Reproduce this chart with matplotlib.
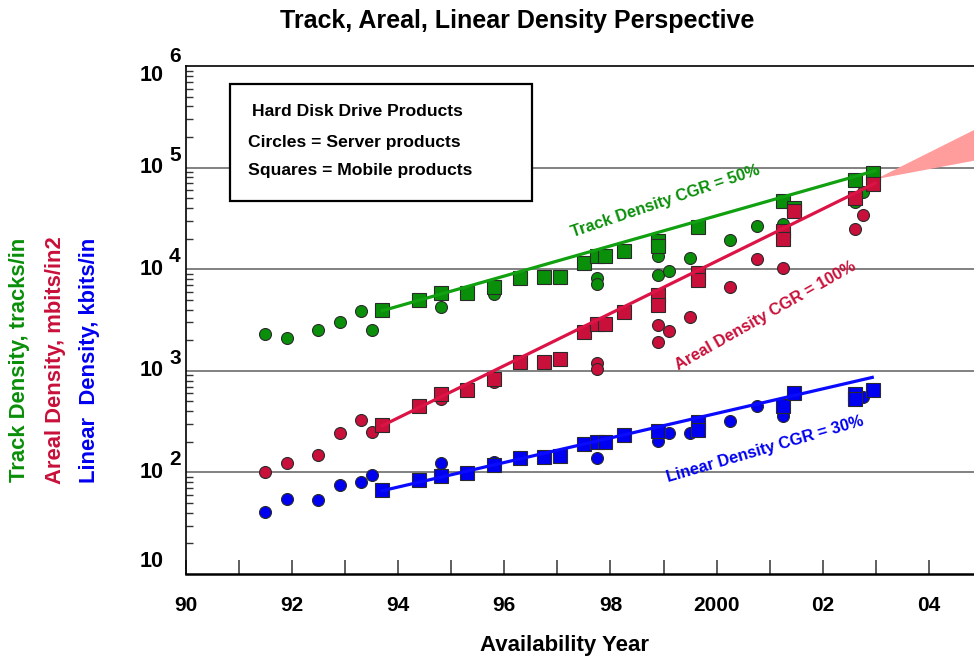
import matplotlib
matplotlib.use("Agg")
import matplotlib.pyplot as plt
from matplotlib.patches import Rectangle, Polygon
from matplotlib.ticker import FixedLocator, LogLocator, NullFormatter

plt.rcParams['font.family'] = ['Liberation Sans', 'DejaVu Sans']

# ---------------- data ----------------
track_server_years = [91.5, 91.9, 92.5, 92.9, 93.3, 93.5, 94.8, 95.8, 97.75, 97.75, 98.9, 98.9,
                      99.1, 99.5, 100.25, 100.75, 101.25, 102.6, 102.75]
track_server_vals = [2290, 2120, 2530, 3010, 3870, 2530, 4210, 5650, 8280, 7160, 13600, 8860,
                     9590, 13000, 19200, 26500, 28000, 46000, 58000]
track_mobile_years = [93.7, 94.4, 94.8, 95.3, 95.8, 96.3, 96.75, 97.05, 97.5, 97.75, 97.9, 98.25,
                      98.9, 98.9, 99.65, 101.25, 101.45, 102.6, 102.95]
track_mobile_vals = [3930, 4950, 5840, 5870, 6740, 8150, 8410, 8410, 11600, 13400, 13400, 15000,
                     18800, 16800, 25900, 46800, 40200, 75000, 89100]

areal_server_years = [91.5, 91.9, 92.5, 92.9, 93.3, 93.5, 94.8, 95.8, 97.75, 97.75, 98.9, 99.1,
                      98.9, 99.5, 100.25, 100.75, 101.25, 102.6, 102.75]
areal_server_vals = [101, 124, 149, 243, 327, 251, 528, 773, 1190, 1050, 2850, 2450,
                     1920, 3380, 6640, 12600, 10200, 24900, 34000]
areal_mobile_years = [93.7, 94.4, 94.8, 95.3, 95.8, 96.3, 96.75, 97.05, 97.5, 97.75, 97.9, 98.25,
                      98.9, 98.9, 99.65, 99.65, 101.25, 101.25, 101.45, 102.6, 102.95]
areal_mobile_vals = [294, 454, 592, 648, 833, 1220, 1220, 1315, 2420, 2880, 2880, 3810,
                     5620, 4470, 9120, 7850, 23600, 20000, 37200, 50500, 68500]

linear_server_years = [91.5, 91.9, 92.5, 92.9, 93.3, 93.5, 94.8, 95.8, 97.75, 98.9, 99.1, 99.5,
                       100.25, 100.75, 101.25, 101.25, 102.6, 102.75]
linear_server_vals = [41.1, 54.6, 54.1, 75.0, 79.6, 93.3, 124, 127, 138, 205, 247, 247,
                      323, 447, 396, 363, 550, 558]
linear_mobile_years = [93.7, 94.4, 94.8, 95.3, 95.8, 96.3, 96.75, 97.05, 97.5, 97.75, 97.9, 98.25,
                       98.9, 99.65, 99.65, 101.25, 101.45, 102.6, 102.6, 102.95]
linear_mobile_vals = [66.4, 84.1, 92.1, 97.7, 117, 140, 141, 145, 189, 200, 200, 232,
                      257, 311, 264, 455, 605, 591, 528, 648]

track_trend_years = [93.7, 102.98]
track_trend_vals = [3900, 93000]
areal_trend_years = [93.7, 102.98]
areal_trend_vals = [288, 70000]
linear_trend_years = [93.7, 102.93]
linear_trend_vals = [66, 861]

wedge_years = [103.0, 105.0, 105.0]
wedge_vals = [77000, 257000, 121000]

xtick_years = [90, 92, 94, 96, 98, 100, 102, 104]
xtick_labels = ['90', '92', '94', '96', '98', '2000', '02', '04']
xminor_years = [91, 93, 95, 97, 99, 101, 103]
ytick_vals = [10, 1e2, 1e3, 1e4, 1e5, 1e6]
ytick_base = ['10', '10', '10', '10', '10', '10']
ytick_exp = ['', '2', '3', '4', '5', '6']

# ---------------- style ----------------
GREEN = '#0a8f0a'
RED = '#c8103a'
BLUE = '#0000f0'
GREEN_L = '#10a010'
RED_L = '#dc1446'
BLUE_L = '#0a0aff'

W, H = 974, 661
fig = plt.figure(figsize=(W / 100, H / 100), dpi=100)
ax = fig.add_axes([185.7 / W, 1 - 574 / H, 1 - 185.7 / W, (574 - 66) / H])
ax.set_yscale('log')
ax.set_xlim(90, 90 + (974 - 185.7) / 53.1)
ax.set_ylim(10, 1e6)

# gridlines at decades
for v in ytick_vals[1:-1]:
    ax.axhline(v, color='#777777', lw=1.3, zorder=1)

# pink wedge
ax.add_patch(Polygon(list(zip(wedge_years, wedge_vals)), closed=True,
                     facecolor='#ff9c9c', edgecolor='none', zorder=2))

ms_c = 8.6
ms_s = 9.4
edge = '#2a2a2a'
kw = dict(linestyle='none', markeredgecolor=edge, markeredgewidth=0.8)
# circles (server)
ax.plot(track_server_years, track_server_vals, 'o', color=GREEN, ms=ms_c, zorder=3, **kw)
ax.plot(areal_server_years, areal_server_vals, 'o', color=RED, ms=ms_c, zorder=3, **kw)
ax.plot(linear_server_years, linear_server_vals, 'o', color=BLUE, ms=ms_c, zorder=3, **kw)
# squares (mobile)
ax.plot(track_mobile_years, track_mobile_vals, 's', color=GREEN, ms=ms_s, zorder=4, **kw)
ax.plot(areal_mobile_years, areal_mobile_vals, 's', color=RED, ms=ms_s, zorder=4, **kw)
ax.plot(linear_mobile_years, linear_mobile_vals, 's', color=BLUE, ms=ms_s, zorder=4, **kw)

# trend lines
ax.plot(track_trend_years, track_trend_vals, color=GREEN_L, lw=2.3, zorder=5)
ax.plot(areal_trend_years, areal_trend_vals, color=RED_L, lw=2.3, zorder=5)
ax.plot(linear_trend_years, linear_trend_vals, color=BLUE_L, lw=2.3, zorder=5)

# trend annotations (placed in figure pixels)
def ftext(px, py, s, **k):
    fig.text(px / W, 1 - py / H, s, **k)

ftext(665, 201, 'Track Density CGR = 50%', color=GREEN, fontsize=11.8, fontweight='bold',
      rotation=18.6, ha='center', va='center', rotation_mode='anchor')
ftext(766, 316, 'Areal Density CGR = 100%', color=RED, fontsize=11.8, fontweight='bold',
      rotation=29.6, ha='center', va='center', rotation_mode='anchor')
ftext(765, 449, 'Linear Density CGR = 30%', color=BLUE, fontsize=11.8, fontweight='bold',
      rotation=16.2, ha='center', va='center', rotation_mode='anchor')

# axes styling
for s in ['left', 'top']:
    ax.spines[s].set_color('black')
    ax.spines[s].set_linewidth(1.2)
ax.spines['bottom'].set_color('black')
ax.spines['bottom'].set_linewidth(1.8)
ax.spines['right'].set_visible(False)

ax.xaxis.set_major_locator(FixedLocator(xtick_years))
ax.xaxis.set_minor_locator(FixedLocator(xminor_years))
ax.set_xticklabels(xtick_labels)
ax.tick_params(axis='x', which='both', direction='in', length=10, width=1.1, color='#333333',
               labelsize=15, pad=16)
for lbl in ax.get_xticklabels():
    lbl.set_fontweight('bold')

ax.yaxis.set_major_locator(FixedLocator(ytick_vals))
ax.yaxis.set_minor_locator(LogLocator(base=10, subs=range(2, 10), numticks=20))
ax.yaxis.set_major_formatter(NullFormatter())
ax.yaxis.set_minor_formatter(NullFormatter())
ax.tick_params(axis='y', which='major', length=0)
ax.tick_params(axis='y', which='minor', direction='in', length=5, width=1.0, color='#333333')

# y tick labels: "10" with raised exponent
base_shift = {0: 9, 5: -6.5}
exp_shift = {5: 6.5}
for i, (v, b, e) in enumerate(zip(ytick_vals, ytick_base, ytick_exp)):
    dy = base_shift.get(i, 0)
    ax.annotate(b, xy=(0, v), xycoords=('axes fraction', 'data'), xytext=(-16, dy),
                textcoords='offset points', ha='right', va='center', fontsize=15.5,
                fontweight='bold', annotation_clip=False)
    if e:
        ey = exp_shift.get(i, dy + 9)
        ax.annotate(e, xy=(0, v), xycoords=('axes fraction', 'data'), xytext=(-12, ey),
                    textcoords='offset points', ha='left', va='center', fontsize=15,
                    fontweight='bold', annotation_clip=False)

# legend box
fig.patches.append(Rectangle((230 / W, 1 - 201 / H), 302 / W, 117 / H, transform=fig.transFigure,
                             facecolor='white', edgecolor='black', linewidth=1.6, zorder=10))
ftext(252, 111, 'Hard Disk Drive Products', fontsize=12.6, fontweight='bold', va='center',
      ha='left', zorder=11)
ftext(248, 143, 'Circles = Server products', fontsize=12.6, fontweight='bold', va='center',
      ha='left', zorder=11)
ftext(248, 171, 'Squares = Mobile products', fontsize=12.6, fontweight='bold', va='center',
      ha='left', zorder=11)

# titles / axis labels
ftext(517, 21, 'Track, Areal, Linear Density Perspective', fontsize=18, fontweight='bold',
      ha='center', va='center')
ftext(564, 646, 'Availability Year', fontsize=16, fontweight='bold', ha='center', va='center')
ftext(20, 360, 'Track Density, tracks/in', color=GREEN, fontsize=15.8, fontweight='bold',
      rotation=90, ha='center', va='center')
ftext(55, 360, 'Areal Density, mbits/in2', color=RED, fontsize=15.8, fontweight='bold',
      rotation=90, ha='center', va='center')
ftext(90, 360, 'Linear  Density, kbits/in', color=BLUE, fontsize=15.8, fontweight='bold',
      rotation=90, ha='center', va='center')

fig.savefig('out.png', dpi=100)
